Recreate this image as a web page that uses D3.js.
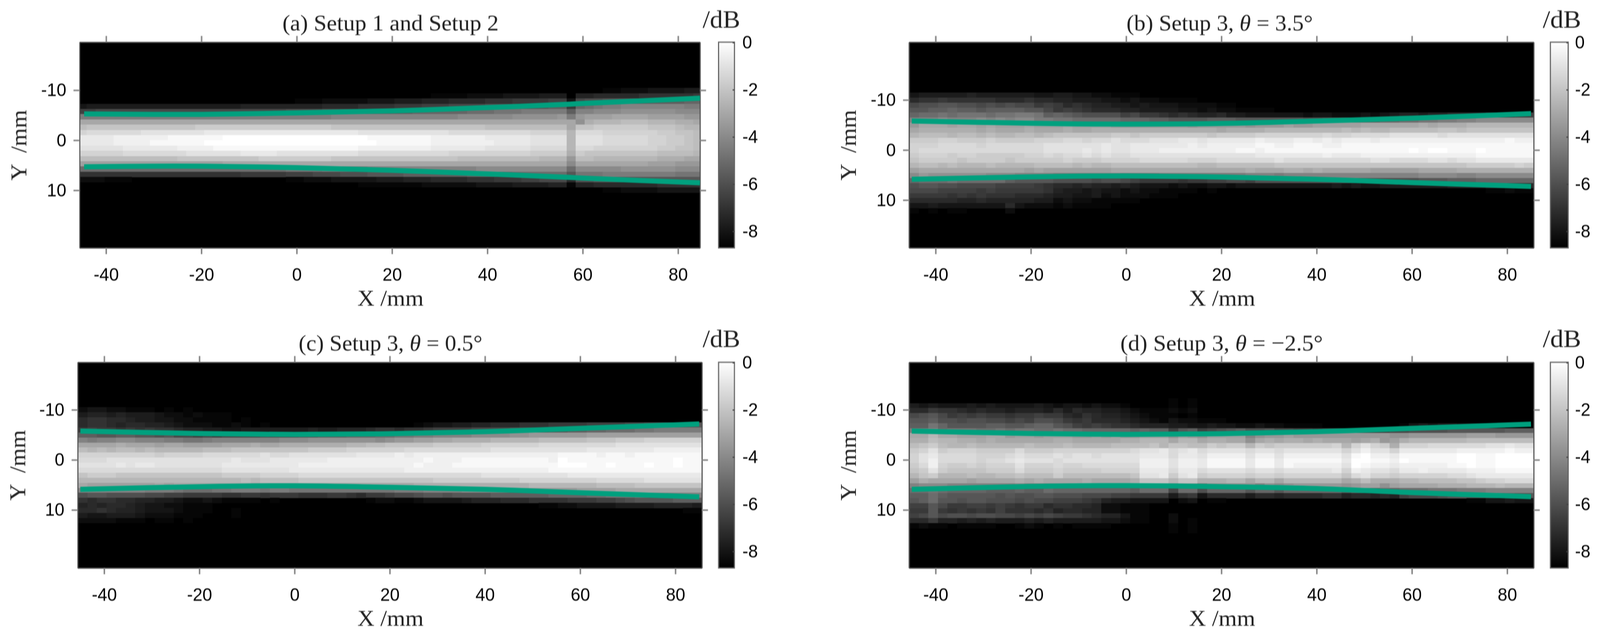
<!DOCTYPE html>
<html>
<head>
<meta charset="utf-8">
<script src="https://cdnjs.cloudflare.com/ajax/libs/d3/7.8.5/d3.min.js"></script>
<style>
html, body { margin: 0; background: #fff; overflow: hidden; }
svg { display: block; width: 100vw; height: 100vh; }
.soft { filter: blur(0.8px); }
.ax text { font: 46px "Liberation Sans", Arial, sans-serif; fill: #000; }
.ax .domain { stroke: #555; stroke-width: 3; }
.ax .tick line { stroke: #888; stroke-width: 4; }
.bar .domain { display: none; }
.bar .tick line { stroke: #444; stroke-width: 3; }
.lab { font-family: "Liberation Serif", serif; fill: #222; }
</style>
</head>
<body>
<script>
// one char per cell, base 36, in quarter dB below 0 (0 = 0 dB, z = -8.75 dB)
// cells left out at the end of a row are at the floor. spaces are only there to count columns
var cellsA = [
"zzzzzzzzzz zzzzzzzzzz zzzzzzzzzz zzzzzzzzzz zzzzzzzzzz zzzzzzzzyy xxxwwwwvv",
"zzzzzzzzzz zzzzzzzzzz zzzzzzzzzz zzzzzzzzzy yyyxxxxwww wvvvzuuttt ttssssssr",
"zzzzzzzzzz zzzzzzzzzz zzzzyyyxxx xxwwwvvvuu uttttsssrr rrqqwpoonn nmmmmmmll",
"wvvvvvvvvv vvvvvvvvuu uuuuuuuttt tssssrrrqq qppppooonn nnmmrlkjii hhhhhhhii",
"qqpppppppp pppppppppp pppoooonnn nnmmmmmlll lllkkkjjji iiiimhhggg ffffffggg",
"iiiiiiiiii iiiiiiiiii iiiiiiiihh hhhhhhhhhh hhggggggff fffeiedddc cccddddee",
"cccccccccc cccccccccc cccccccccc cccccccccc cccccccccc cccccfbaaa 999aaabbc",
"9888888888 8887777777 7777777788 8888888888 8888899999 9999c88777 7778889aa",
"6555555444 4444333333 3333333333 3444444444 4555555555 6666a55566 666677889",
"3333222222 1111110000 0000000000 0011111112 2222233333 4444a44455 555667789",
"3333222211 1111000000 0000000000 0001111112 2222223333 4444a44455 555667789",
"4444433333 3222211111 1111111111 1222222223 3333344444 5555a55666 666677889",
"6666655555 5544444433 3344444444 4555555555 5666666666 7777b78888 88889999a",
"9999999999 9888888888 7777777788 8888888888 8899999999 9aaae99aaa aaaabbbcc",
"dddddddddd ddddddcccc cccccccccc cccccccccc cccccccccc ccccgccccc cccdddeee",
"kkkkkkkkkk kkkkkkkkkk kkkjjjjiii iihhhhhhhh hhhhgggggg ggggkggggg ffffffggg",
"ssssssssss ssssssssrr rrrqqqpppo oonnnnmmmm mmmlllllkk kkkknjjjii iiiiiijjj",
"xxxyyyzzzz zzzzzzzzzz zzzyyxxxww wwwvvvuuut tttsssrrrq qppptoonnn nnnnnnnnn",
"zzzzzzzzzz zzzzzzzzzz zzzzzzzzzz zyyyyyyyxx xxxxwwwwvv vvuuyuuttt ttttsssss",
"zzzzzzzzzz zzzzzzzzzz zzzzzzzzzz zzzzzzzzzz zzzzzzzzzz zzzzzzzzyy xxxxwwwww"
];
var cellsB = [
"wvvvvvuvvv vvvwwvvwwx xyyyzzzzzz",
"tssrssssst ttsttuuvvv wwxwxxyyyy",
"poonnoopop opprqrtstu uvvwvwwwxx xxyyzzzzzz",
"nnmmlmmnmm mmnnprqrst ttuuvvvvww xwxxyyyyzz",
"lkkjkjjjkj jiijmlmnoo ooqprrstst uutvvwwwww wxwwxxxwxw vuuvuutttt rrrqq",
"hhhghhhghg hggiijjkkk kklllmmnnn nmmmnnnnnn noonnmmmml lkkjjiihhg ggggg",
"ecccdccdcd ddcdddcddd deeeeeeeef eeeeefeeed eedddddccc cccbcbbbaa aaaaa",
"cbbbbbbcbc ccbcccbccb bbbbbbbbbb bbcbbbbaaa aaaaa9a9aa 9999988988 88888",
"a999a99a9a a99a988888 8778777777 7877776666 6665665555 4444454444 44444",
"7776677767 7776665565 5455544433 4333332333 2232322232 2222222222 22122",
"6665555655 5555444444 3443333332 3222221122 1112211111 1111111111 11111",
"6555555555 5555444434 3443332222 2222112111 1111111111 1101001110 11111",
"7666766777 7766565545 4554444444 4444443333 3332333222 2222222221 11111",
"8777787777 8777776777 6666555556 6655555545 5555555544 5555445443 33333",
"a99a9aaa9a aaa9999a9a a999999999 aa99999988 8888888888 8888888877 77767",
"dccccccccc ccdcdddddd dccccccccc cccccbcccb bcbcccccdd dddccccbbb bbbbb",
"geffffffgg ghhhhiiiii iijjjjiiii iiiiihhhih hhhhhhhhhh hhhgggghhg ggggg",
"lkkkjkkkkk mnnnnoooop oopqrrrrsr rqqppqoooo ooooonoooo ooonnnmmml lllll",
"onnooppppq qqqrsttutu uvuvwwwxwx xwwxwwwwww wwwwvwvwwv vvvvvvuuuu ttttt",
"pppqqqqrqr rrrrsuvvwv wwxwxxyyyy zyzzzzzzzz zzzzzzzzzz zzzzzzzzzz yyxyy",
"rrrrsrsrss stttuvvwwv xwxxxyyyzz",
"tttttuutuu uuuvvxwxxy yyyyzzzzzz",
"wwvwwwwwww twxxxyxyyy yzzzzzzzzz",
"yzyzyyzzzz xzzzzzzzzz"
];
var cellsC = [
"xwwxxyyyzy zyzzzzzzzz",
"vuuvuvvvwx xyxyyyzzzz",
"tssttuvvww xxyyyyzyzz",
"tsstuttuuv wxxxyyxyzy zzzzzzzzzz zzzzzyxwwv vuutttsssr rrrqqqqppo oonnn",
"rqrrsrsrss tuuvvwwvvv vvvvuvvuuu tsstssrqqq qppppoooon nmmllkkkjj iiiii",
"mmnnmmnnon ppqpqppppo ooonnmmmll lkkjjiihhh hggggffeee eeeddddddd ddddd",
"hihhgghhhi ijjihhhhhh hgggffffff fgfeeddccb bbbaaaaa99 9998887776 66666",
"ccccbcccdc cddddcccbc cbbbbbbbaa 9988888777 7766666655 5555554444 44444",
"9a9a99a9aa aaa9998888 8888777766 6666555555 5554444444 4443333333 22222",
"6666666676 6665555554 5544444443 3332322222 2222222222 1111211211 11111",
"5554444444 4444443444 3333332222 2222221222 1111111112 0111111111 11011",
"4444343344 4444433333 3332222222 2222212221 1111111111 0001101110 11011",
"5555555555 5555544444 4433333333 3333222222 2222222221 1111111111 11111",
"8777888888 8888877776 6665555555 5555555555 5544444444 4333333333 33333",
"aaaaaaaaaa aaaaaaa9a9 9998888888 8888888777 7777776666 6666555554 44444",
"cdddddddcd ccccccccdc cccccccccc cccccbbbbb bbbbbbbaaa aaaa999988 88888",
"hhhhhhhiii jkkkjjiiij iijjjjjjjj jjjiiihhhh ggggfffeee eeddddcccc ccccc",
"onnooooppq qrrrrssrrs rrrsssrrst rrqpponnon nnnmmmmmml lllkkjjjii hhhhh",
"stssttuuvv wxxwxyyyyz yzzzzzzzzz yxxyyxwwww vuuutttsss srrrqqponn nnmmm",
"ututtuvwwx xyyyzzzzzz zzzzzzzzzz zzzzzzzzzz zzzzzzzzyy xxwwwwvvvv uuuuv",
"ttstuuvwww xyyyzzyzzz zzzzzzzzzz zzzzzzzzzz zzzzzzzzzz zzzzzzzzzz zzzyy",
"vwwvvvwxxx yyyzzzyzzz",
"xxxxyyyzyy zyzzzzzzzz"
];
var cellsD = [
"zzzzzzzzzz zzzzzzzzzz zzzzzzzyzy",
"vwvwwwvwvw wwwvwxwwxw xxyzzzzyzy",
"ttrsstutuu vuuuvtvtuu vvwxyyyxyx",
"ponprqrqrr srrqrrtust uuvwxyyyzy",
"nnmoopoopp qpqooprsrt ttuvwxywxx yyyzzzzzzz",
"mmjlnnnnmm nnmllnoqrq rsstuuuvvw wvwwxxwxxy yyyzzzzzzz zywvwvvwww xxzzz",
"iihkjjjkkj kjjkkjkkll lllmlmmqnm qponmoonpp qqrqqqrqqq ppoooonnnn nnmmm",
"ccaccdddcc eddedddeed edeedddfde fddddhfeed eeeeeeeeee ffeeeeeedd deeee",
"bb9aabbcbc cccccbbccc ccbbaaacaa cbbccfcbcb bcbcccdcbe dbaaaaaa99 99999",
"9879aa9aaa aa9aaa9aaa a99998a889 97877a7877 77776a6467 b666555555 44344",
"7647666777 7577766666 6665443543 5444454454 4444464244 6333333222 22122",
"6435555666 5455545445 4444333533 4222242242 2222241022 3111111001 10000",
"6425555655 4344454444 4444222422 3111131131 1111130011 2011111001 10000",
"7526776766 6466656655 5555222422 3111131131 2222240122 3222221101 10000",
"8747888877 7577767777 6666333533 5444454454 4444362344 5332333322 21111",
"a87aaa9aa9 9899979999 9998443743 7666676676 6666685466 7666665543 33333",
"dbccccdccc cbcbccccbc cccb888a88 bbbaacaaca aaaaacb9bb baa9999887 66555",
"hggghhhhhh hghhhhihii iihgeeeiee ifffffhfgf eeeeefeddf dccccbbbaa a9aaa",
"kkjkllllmm mlmmklllll lllmkkkpkk ollllnllnl lllllnlkmk lkkkjjjiii hhhhh",
"mmkmnnnnno noonnooopp pqqrrrrvsr wttttvttut tttssuttut uqppponnnn nnmnn",
"nmknnonnoo opoppqqqrs uvvwwwwzxw zyyzzzzzzz zzzzzzzzzz zzzzzzzzyy wwvww",
"qqnprrqqrq rsrrtssttu xxyyyzzzzz",
"rrnrsrsrsq ssstsuttuu xxyyyzzzzz",
"qpnpoopoop pqpqpqrrst uuwyyzzxzz",
"ttruuvuvuv vvuvuvvvvv wwxyyzzxzy",
"yxyyzyyyyz zyxyzyzyyy yzzzzzzyzy",
"zzzzzzzzzz zzzzzzzzzz zzzzzzzyzy"
];

// boundary curves, mm
var curveXA = [-44.6, -30, -20, 0, 20, 40, 57, 60, 84.6];
var upperA = [-5.27, -5.18, -5.18, -5.47, -5.88, -6.53, -7.2, -7.35, -8.4];
var lowerA = [5.3, 5.18, 5.18, 5.47, 6.0, 6.73, 7.4, 7.55, 8.5];
var curveXB = [-45, -20, -10, 0, 20, 40, 60, 85];
var upperB = [-5.8, -5.35, -5.22, -5.18, -5.3, -5.8, -6.37, -7.27];
var lowerB = [5.84, 5.35, 5.22, 5.18, 5.39, 5.84, 6.5, 7.27];
var curveXC = [-45, -20, 0, 20, 40, 60, 85];
var upperC = [-5.75, -5.27, -5.1, -5.22, -5.63, -6.3, -7.18];
var lowerC = [5.88, 5.35, 5.18, 5.47, 5.88, 6.57, 7.39];
var upperD = [-5.75, -5.27, -5.1, -5.22, -5.63, -6.3, -7.14];
var lowerD = [5.88, 5.31, 5.14, 5.35, 5.72, 6.53, 7.35];

var xTicks = [-40, -20, 0, 20, 40, 60, 80];
var yTicks = [-10, 0, 10];
var barTicks = [0, -2, -4, -6, -8];
var barRange = [0, -8.7];

var gray = d3.scaleLinear().domain(barRange).range(["#ffffff", "#000000"]).clamp(true);

var panels = [
	{ id: "a", left: 210, right: 1848, top: 108, bottom: 635, xDom: [-45.56, 84.6], yDom: [-19.6, 21.5],
	  x0: -46, dx: 1.9, y0: -10.45, dy: 1.045, cells: cellsA, curveX: curveXA, upper: upperA, lower: lowerA,
	  barL: 1897, barR: 1939, barPad: 21, dbX: 1855, dbW: 99, dbY: 71, titleW: 571, yLabX: 70, titleX: 1031,
	  title: ["(a) Setup 1 and Setup 2"] },
	{ id: "b", left: 2400, right: 4049, top: 108, bottom: 635, xDom: [-45.57, 85.57], yDom: [-21.55, 19.55],
	  x0: -45.57, dx: 2.0175, y0: -11.5, dy: 1.005, cells: cellsB, curveX: curveXB, upper: upperB, lower: lowerB,
	  barL: 4093, barR: 4140, barPad: 18, dbX: 4073, dbW: 101, dbY: 71, titleW: 492, yLabX: 2260, titleX: 3220,
	  title: ["(b) Setup 3, ", "θ", " = 3.5°"] },
	{ id: "c", left: 205, right: 1853, top: 928, bottom: 1455, xDom: [-45.57, 85.57], yDom: [-19.5, 21.6],
	  x0: -45.57, dx: 2.0175, y0: -10.5, dy: 1.005, cells: cellsC, curveX: curveXC, upper: upperC, lower: lowerC,
	  barL: 1897, barR: 1939, barPad: 21, dbX: 1855, dbW: 99, dbY: 889, titleW: 485, yLabX: 67, titleX: 1031,
	  title: ["(c) Setup 3, ", "θ", " = 0.5°"] },
	{ id: "d", left: 2400, right: 4049, top: 928, bottom: 1455, xDom: [-45.57, 85.57], yDom: [-19.5, 21.6],
	  x0: -45.57, dx: 2.0175, y0: -12.35, dy: 1.0, cells: cellsD, curveX: curveXC, upper: upperD, lower: lowerD,
	  barL: 4093, barR: 4140, barPad: 18, dbX: 4073, dbW: 101, dbY: 889, titleW: 535, yLabX: 2260, titleX: 3225,
	  title: ["(d) Setup 3, ", "θ", " = −2.5°"] }
];

// the layout is in the reference's 4224x1642 pixels, stretched to whatever window we get
var svg = d3.select("body").append("svg").attr("viewBox", "0 0 4224 1642").attr("preserveAspectRatio", "none");
var defs = svg.append("defs");

var barGrad = defs.append("linearGradient").attr("id", "barGrad").attr("x1", 0).attr("x2", 0).attr("y1", 0).attr("y2", 1);
barGrad.append("stop").attr("offset", 0).attr("stop-color", gray(barRange[0]));
barGrad.append("stop").attr("offset", 1).attr("stop-color", gray(barRange[1]));

panels.forEach(function(p) {
	var x = d3.scaleLinear().domain(p.xDom).range([p.left, p.right]);
	var y = d3.scaleLinear().domain(p.yDom).range([p.top, p.bottom]);
	var g = svg.append("g").attr("class", "soft panel-" + p.id);

	defs.append("clipPath").attr("id", "clip-" + p.id).append("rect")
		.attr("x", p.left).attr("y", p.top).attr("width", p.right - p.left).attr("height", p.bottom - p.top);

	g.append("rect").attr("x", p.left).attr("y", p.top).attr("width", p.right - p.left).attr("height", p.bottom - p.top)
		.attr("fill", gray(barRange[1]));

	// heat cells
	var data = [];
	p.cells.forEach(function(row, r) {
		row.replace(/ /g, "").split("").forEach(function(c, i) {
			if (c != "z") data.push({ r: r, i: i, db: -parseInt(c, 36) * 0.25 });
		});
	});
	g.append("g").attr("clip-path", "url(#clip-" + p.id + ")").attr("shape-rendering", "crispEdges")
		.selectAll("rect").data(data).enter().append("rect")
		.attr("x", function(d) { return x(p.x0 + d.i * p.dx); })
		.attr("y", function(d) { return y(p.y0 + d.r * p.dy); })
		.attr("width", x(p.dx) - x(0) + 0.5)
		.attr("height", y(p.dy) - y(0) + 0.5)
		.attr("fill", function(d) { return gray(d.db); });

	// axes
	var fmt = function(d) { return String(d); };
	g.append("g").attr("class", "ax").attr("transform", "translate(0," + p.bottom + ")")
		.call(d3.axisBottom(x).tickValues(xTicks).tickSize(16).tickSizeOuter(0).tickPadding(35).tickFormat(fmt));
	g.append("g").attr("class", "ax").attr("transform", "translate(0," + p.top + ")")
		.call(d3.axisTop(x).tickValues(xTicks).tickSize(16).tickSizeOuter(0).tickFormat(""));
	g.append("g").attr("class", "ax").attr("transform", "translate(" + p.left + ",0)")
		.call(d3.axisLeft(y).tickValues(yTicks).tickSize(16).tickSizeOuter(0).tickPadding(19).tickFormat(fmt));
	g.append("g").attr("class", "ax").attr("transform", "translate(" + p.right + ",0)")
		.call(d3.axisRight(y).tickValues(yTicks).tickSize(16).tickSizeOuter(0).tickFormat(""));

	// green boundaries
	var line = d3.line().x(function(d) { return x(d[0]); }).y(function(d) { return y(d[1]); }).curve(d3.curveCatmullRom);
	[p.upper, p.lower].forEach(function(s) {
		g.append("path").datum(d3.zip(p.curveX, s)).attr("d", line)
			.attr("fill", "none").attr("stroke", "#00a07e").attr("stroke-width", 13);
	});

	// colour bar
	var barY = d3.scaleLinear().domain(barRange).range([p.top + 1, p.bottom]);
	g.append("rect").attr("x", p.barL).attr("y", p.top).attr("width", p.barR - p.barL).attr("height", p.bottom - p.top)
		.attr("fill", "url(#barGrad)").attr("stroke", "#666").attr("stroke-width", 3);
	g.append("g").attr("class", "ax bar").attr("transform", "translate(" + p.barR + ",0)")
		.call(d3.axisRight(barY).tickValues(barTicks).tickSizeInner(-5).tickSizeOuter(0).tickPadding(p.barPad).tickFormat(fmt));

	// labels
	var title = g.append("text").attr("class", "lab").attr("x", p.titleX).attr("y", p.top - 30)
		.attr("text-anchor", "middle").attr("font-size", 58)
		.attr("textLength", p.titleW).attr("lengthAdjust", "spacingAndGlyphs");
	p.title.forEach(function(t, k) {
		title.append("tspan").attr("font-style", k == 1 ? "italic" : null).text(t);
	});
	g.append("text").attr("class", "lab").attr("x", (p.left + p.right) / 2 + 2).attr("y", p.bottom + 148)
		.attr("text-anchor", "middle").attr("font-size", 58)
		.attr("textLength", 175).attr("lengthAdjust", "spacingAndGlyphs").text("X /mm");
	g.append("text").attr("class", "lab")
		.attr("transform", "translate(" + p.yLabX + "," + (p.top + 264) + ") rotate(-90)")
		.attr("text-anchor", "middle").attr("font-size", 58)
		.attr("textLength", 181).attr("lengthAdjust", "spacingAndGlyphs").attr("xml:space", "preserve").text("Y  /mm");
	g.append("text").attr("class", "lab").attr("x", p.dbX).attr("y", p.dbY)
		.attr("font-size", 64).attr("textLength", p.dbW).attr("lengthAdjust", "spacingAndGlyphs").text("/dB");
});
</script>
</body>
</html>
